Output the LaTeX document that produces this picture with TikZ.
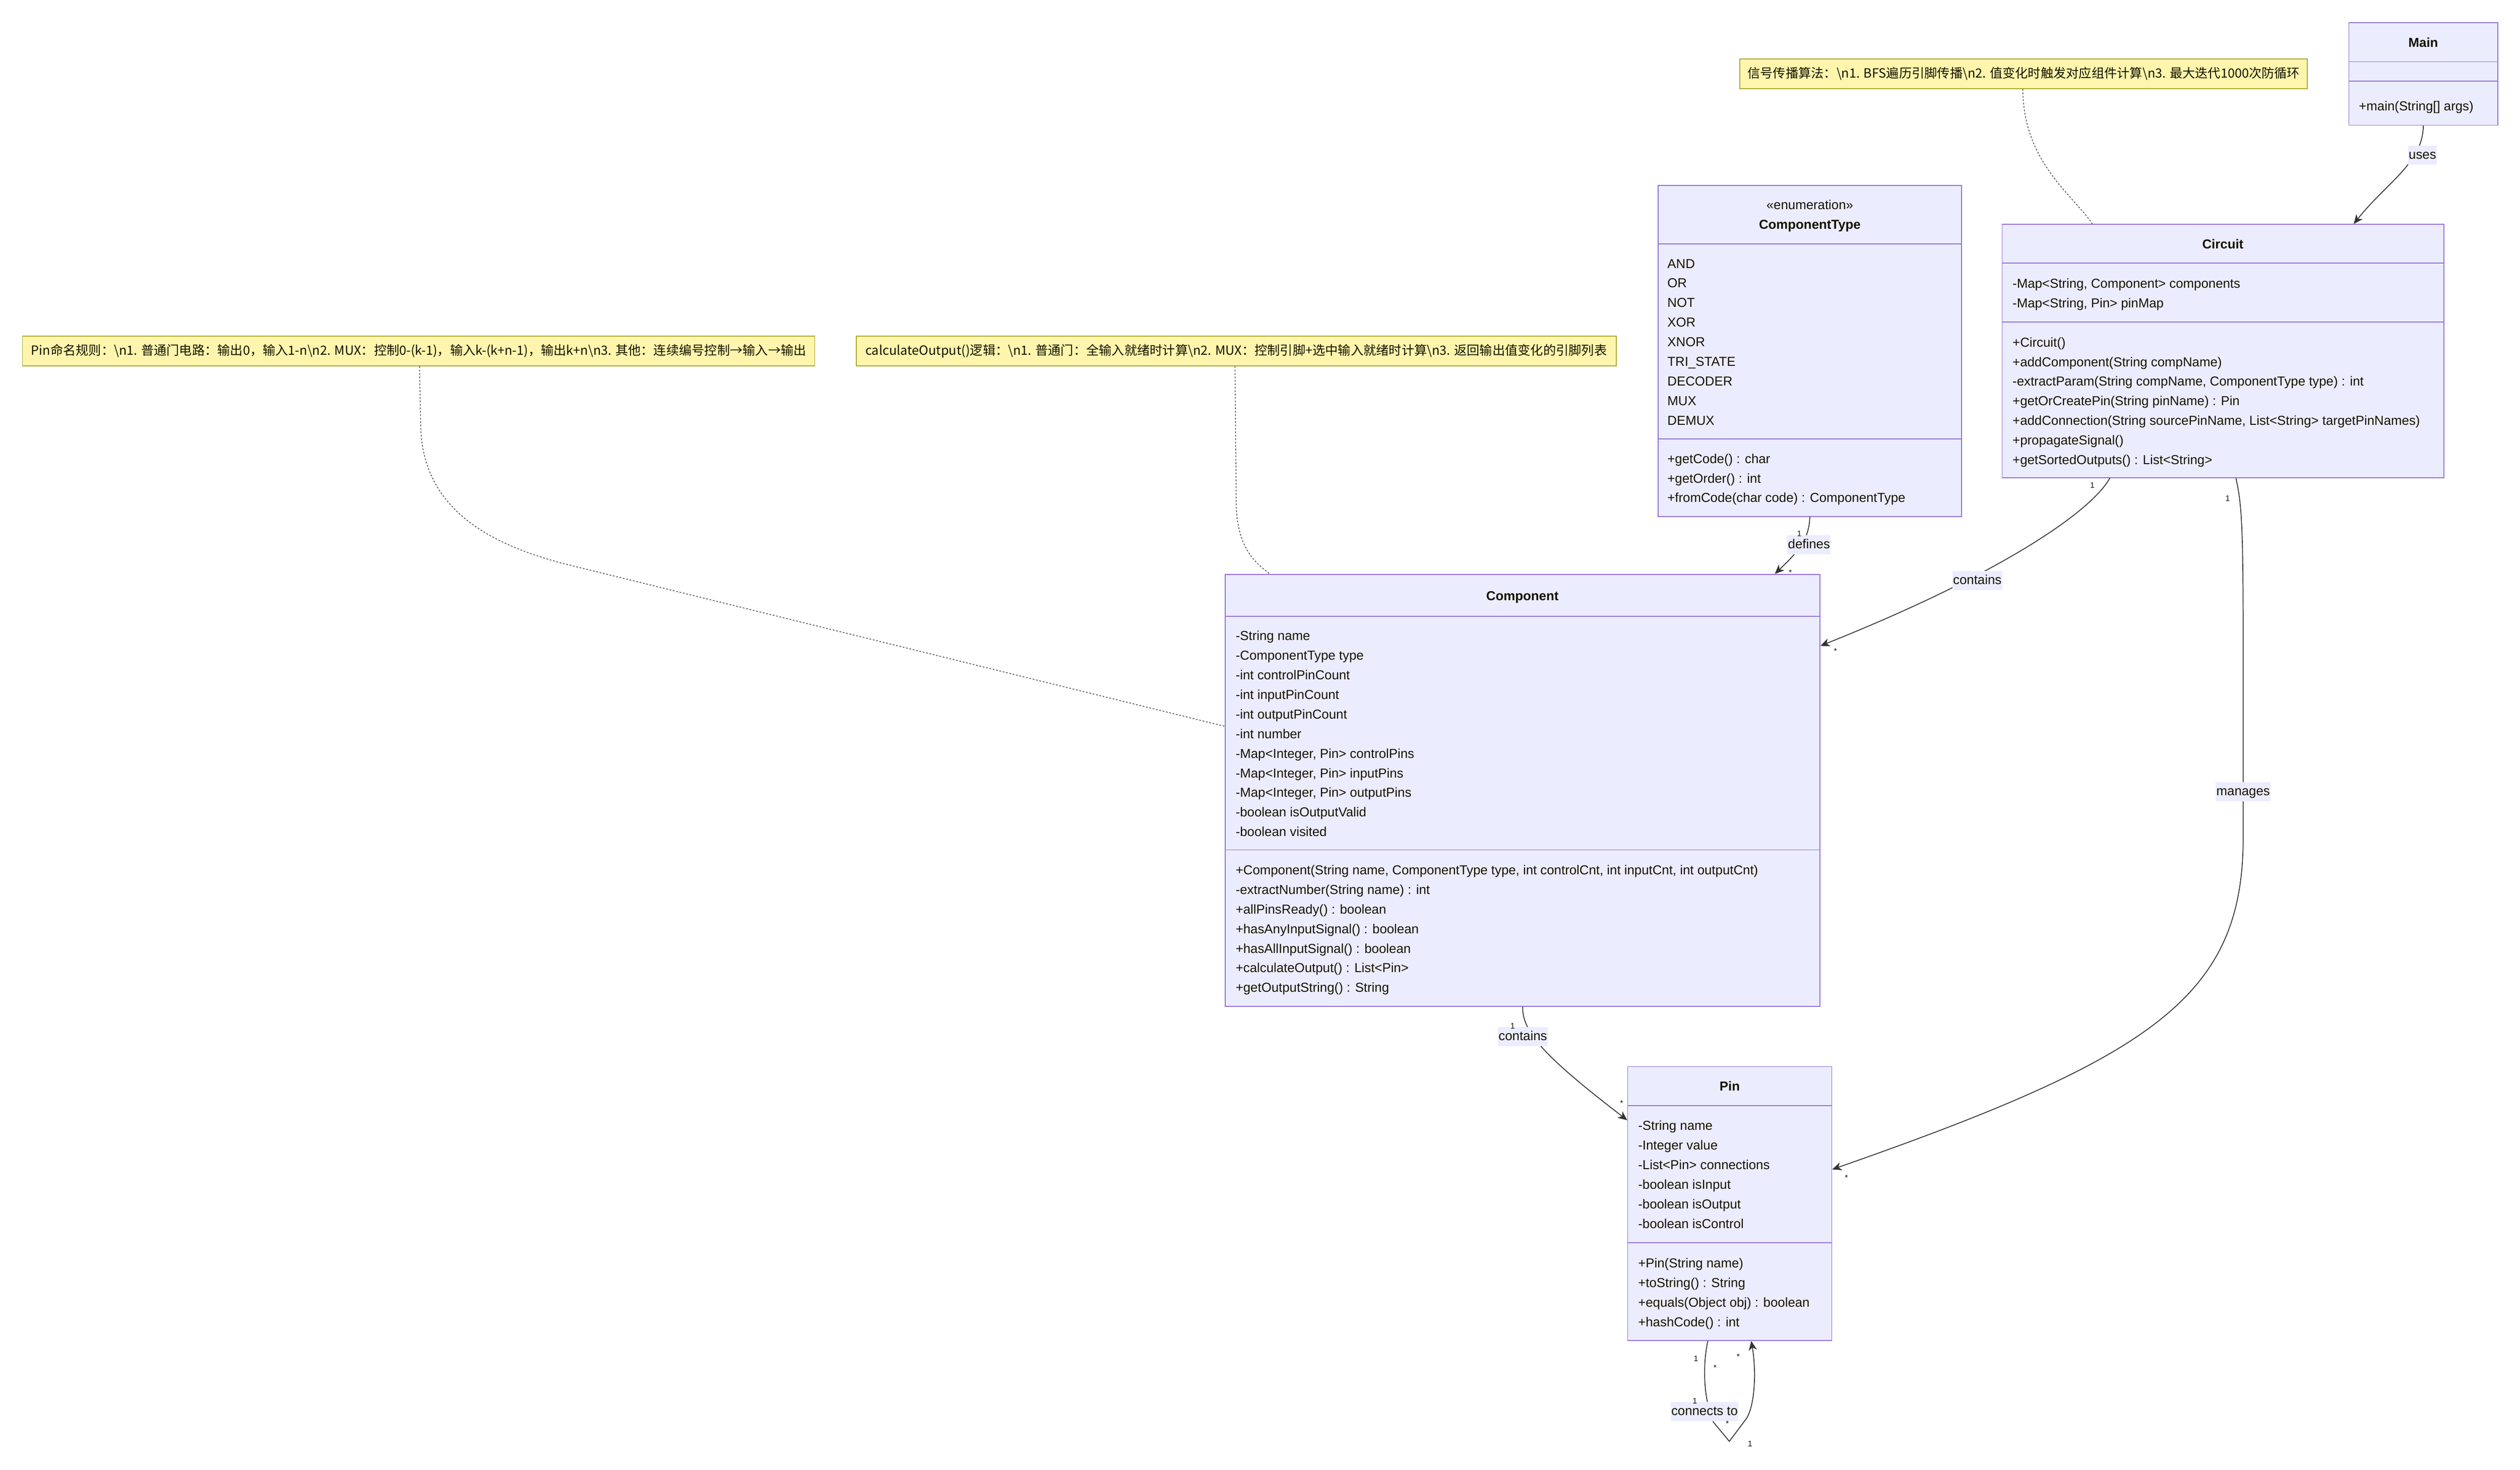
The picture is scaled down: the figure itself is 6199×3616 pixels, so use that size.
\documentclass[tikz,border=0pt]{standalone}
\usepackage{fontspec}
\setmainfont{Liberation Sans}
\newfontfamily\cjk{Noto Sans CJK SC}
\usepackage{tikz}
\usetikzlibrary{arrows.meta,calc,fit,positioning}
\definecolor{klassFuell}{HTML}{ECECFF}
\definecolor{klassRand}{HTML}{9370DB}
\definecolor{notizFuell}{HTML}{FFF5AD}
\definecolor{notizRand}{HTML}{AAAA33}
\definecolor{linie}{HTML}{333333}
\definecolor{schrift}{HTML}{131300}
\newcommand{\bsn}{\textbackslash n}
\tikzset{
  klasse/.style={draw=klassRand, fill=klassFuell, line width=0.6pt, inner sep=0pt},
  trenner/.style={draw=klassRand, line width=0.6pt},
  eintrag/.style={anchor=west, inner sep=0pt, text height=0.72em, text depth=0pt, text=schrift, font=\fontsize{9.1pt}{13.7pt}\selectfont},
  titel/.style={eintrag, anchor=center, font=\fontsize{9.1pt}{13.7pt}\selectfont\bfseries},
  notiz/.style={draw=notizRand, fill=notizFuell, line width=0.6pt, inner sep=0pt},
  notiztext/.style={anchor=base, inner sep=0pt, text=schrift, font=\cjk\fontsize{8.9pt}{13.7pt}\selectfont},
  kante/.style={draw=linie, line width=0.6pt, -{Stealth[length=0.23cm, width=0.2cm, inset=0.07cm]}},
  hinweis/.style={draw=linie, line width=0.45pt, dash pattern=on 1.2pt off 1.2pt},
  etikett/.style={fill=klassFuell, inner xsep=0.5pt, inner ysep=0pt, minimum height=0.47cm, text height=0.72em, text depth=0.2em, text=schrift, font=\fontsize{9.1pt}{13.7pt}\selectfont},
  zahl/.style={inner sep=0pt, text=schrift, font=\fontsize{5.6pt}{6pt}\selectfont}
}
\begin{document}
\begin{tikzpicture}[x=0.01cm, y=-0.01cm]
\useasboundingbox (0,0) rectangle (6199,3616);
%Zeilenabstand der Eintraege in Pixeln des Originals
  \pgfmathsetmacro{\zeile}{48.2}

%Notizen
\node[notiz, fit={(4280,145) (5676,218)}] (notizSignal) {};
\node[notiztext] (notizSignalText) at (4978,192) {信号传播算法：\bsn1. BFS遍历引脚传播\bsn2. 值变化时触发对应组件计算\bsn3. 最大迭代1000次防循环};
\node[notiz, fit={(55,827) (2004,900)}] (notizPin) {};
\node[notiztext] (notizPinText) at (1030,874) {Pin命名规则：\bsn1. 普通门电路：输出0，输入1-n\bsn2. MUX：控制0-(k-1)，输入k-(k+n-1)，输出k+n\bsn3. 其他：连续编号控制→输入→输出};
\node[notiz, fit={(2106,827) (3976,900)}] (notizCalc) {};
\node[notiztext] (notizCalcText) at (3041,874) {calculateOutput()逻辑：\bsn1. 普通门：全输入就绪时计算\bsn2. MUX：控制引脚+选中输入就绪时计算\bsn3. 返回输出值变化的引脚列表};

%Main
\node[klasse, fit={(5778,56) (6144,308)}] (main) {};
\draw[trenner] (5778,152) -- (6144,152);
\draw[trenner] (5778,200) -- (6144,200);
\node[titel] (mainTitel) at (5961,103) {Main};
\node[eintrag] (mainM0) at (5802,260) {+main(String[] args)};

%Circuit
\node[klasse, fit={(4925,552) (6012,1175)}] (circuit) {};
\draw[trenner] (4925,647) -- (6012,647);
\draw[trenner] (4925,792) -- (6012,792);
\node[titel] (circuitTitel) at (5468,599) {Circuit};
\foreach \t [count=\i from 0] in {{-Map<String, Component> components},{-Map<String, Pin> pinMap}}
  \node[eintrag] (circuitA\i) at (4950,{696+\i*\zeile}) {\t};
\foreach \t [count=\i from 0] in {{+Circuit()},{+addComponent(String compName)},{-extractParam(String compName, ComponentType type) : int},{+getOrCreatePin(String pinName) : Pin},{+addConnection(String sourcePinName, List<String> targetPinNames)},{+propagateSignal()},{+getSortedOutputs() : List<String>}}
  \node[eintrag] (circuitM\i) at (4950,{840.5+\i*\zeile}) {\t};

%ComponentType
\node[klasse, fit={(4079,456) (4825,1271)}] (compType) {};
\draw[trenner] (4079,600) -- (4825,600);
\draw[trenner] (4079,1080) -- (4825,1080);
\node[eintrag, anchor=center] (compTypeStereo) at (4452,503) {«enumeration»};
\node[titel] (compTypeTitel) at (4452,551) {ComponentType};
\foreach \t [count=\i from 0] in {AND,OR,NOT,XOR,XNOR,TRI\_STATE,DECODER,MUX,DEMUX}
  \node[eintrag] (compTypeA\i) at (4101,{647+\i*\zeile}) {\t};
\foreach \t [count=\i from 0] in {{+getCode() : char},{+getOrder() : int},{+fromCode(char code) : ComponentType}}
  \node[eintrag] (compTypeM\i) at (4101,{1127+\i*\zeile}) {\t};

%Component
\node[klasse, fit={(3014,1413) (4477,2476)}] (component) {};
\draw[trenner] (3014,1516) -- (4477,1516);
\draw[trenner] (3014,2091) -- (4477,2091);
\node[titel] (componentTitel) at (3745,1465) {Component};
\foreach \t [count=\i from 0] in {{-String name},{-ComponentType type},{-int controlPinCount},{-int inputPinCount},{-int outputPinCount},{-int number},{-Map<Integer, Pin> controlPins},{-Map<Integer, Pin> inputPins},{-Map<Integer, Pin> outputPins},{-boolean isOutputValid},{-boolean visited}}
  \node[eintrag] (componentA\i) at (3039,{1563+\i*\zeile}) {\t};
\foreach \t [count=\i from 0] in {{+Component(String name, ComponentType type, int controlCnt, int inputCnt, int outputCnt)},{-extractNumber(String name) : int},{+allPinsReady() : boolean},{+hasAnyInputSignal() : boolean},{+hasAllInputSignal() : boolean},{+calculateOutput() : List<Pin>},{+getOutputString() : String}}
  \node[eintrag] (componentM\i) at (3039,{2139+\i*\zeile}) {\t};

%Pin
\node[klasse, fit={(4004,2624) (4506,3298)}] (pin) {};
\draw[trenner] (4004,2720) -- (4506,2720);
\draw[trenner] (4004,3057) -- (4506,3057);
\node[titel] (pinTitel) at (4255,2671) {Pin};
\foreach \t [count=\i from 0] in {{-String name},{-Integer value},{-List<Pin> connections},{-boolean isInput},{-boolean isOutput},{-boolean isControl}}
  \node[eintrag] (pinA\i) at (4029,{2768+\i*\zeile}) {\t};
\foreach \t [count=\i from 0] in {{+Pin(String name)},{+toString() : String},{+equals(Object obj) : boolean},{+hashCode() : int}}
  \node[eintrag] (pinM\i) at (4029,{3106+\i*\zeile}) {\t};

%gestrichelte Verbindungen der Notizen
\draw[hinweis] ($(notizSignal.south west)+(697,0)$) .. controls (4977,400) and (5100,480) .. ($(circuit.north west)+(223,0)$);
\draw[hinweis] ($(notizPin.south west)+(978,0)$) -- (1035,1050) .. controls (1040,1250) and (1200,1340) .. (1400,1390) -- ($(component.north west)+(0,375)$);
\draw[hinweis] ($(notizCalc.south west)+(933,0)$) -- (3041,1240) .. controls (3043,1340) and (3080,1380) .. ($(component.north west)+(111,0)$);

%Beziehungen
\draw[kante] (main.south) .. controls (5961,400) and (5870,450) .. ($(circuit.north west)+(866,0)$);
\draw[kante] (compType.south) .. controls (4450,1330) and (4420,1360) .. ($(component.north west)+(1353,0)$);
\draw[kante] ($(circuit.south west)+(266,0)$) .. controls (5150,1250) and (4950,1400) .. ($(component.north east)+(0,177)$);
\draw[kante] ($(circuit.south west)+(576,0)$) .. controls (5515,1240) and (5518,1300) .. (5518,1600) -- (5518,2060) .. controls (5518,2450) and (5300,2600) .. ($(pin.north east)+(0,254)$);
\draw[kante] (component.south) .. controls (3745,2540) and (3800,2600) .. ($(pin.north west)+(0,133)$);
\draw[kante] ($(pin.south)+(-54,0)$) .. controls (4188,3360) and (4190,3440) .. (4215,3499) -- (4254,3546) -- (4296,3490) .. controls (4318,3455) and (4320,3370) .. ($(pin.south)+(53,0)$);

%Beschriftungen
\node[etikett] (lblUses) at (5959,382) {uses};
\node[etikett] (lblDefines) at (4450,1340) {defines};
\node[etikett] (lblContainsA) at (4864,1428) {contains};
\node[etikett] (lblManages) at (5518,1948) {manages};
\node[etikett] (lblContainsB) at (3746,2550) {contains};
\node[etikett] (lblConnects) at (4193,3473) {connects to};

%Multiplizitaeten
\node[zahl] (mDefA) at (4426,1313) {1};
\node[zahl] (mDefB) at (4404,1409) {*};
\node[zahl] (mConA) at (5147,1194) {1};
\node[zahl] (mConB) at (4515,1602) {*};
\node[zahl] (mManA) at (5480,1226) {1};
\node[zahl] (mManB) at (4542,2898) {*};
\node[zahl] (mConC) at (3721,2524) {1};
\node[zahl] (mConD) at (3989,2714) {*};
\node[zahl] (mPinA) at (4172,3342) {1};
\node[zahl] (mPinB) at (4219,3365) {*};
\node[zahl] (mPinC) at (4276,3338) {*};
\node[zahl] (mPinD) at (4169,3447) {1};
\node[zahl] (mPinE) at (4249,3502) {*};
\node[zahl] (mPinF) at (4305,3552) {1};
\end{tikzpicture}
\end{document}
